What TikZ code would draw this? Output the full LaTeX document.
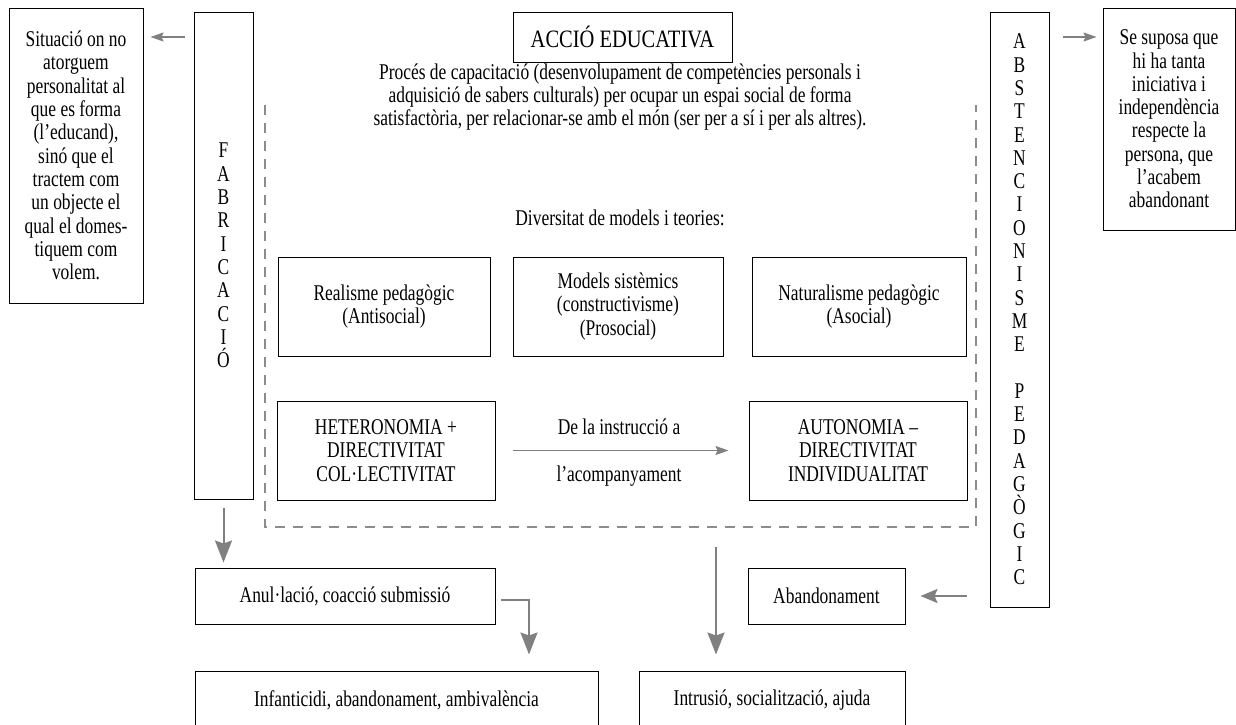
\documentclass[tikz,border=0pt]{standalone}
\usepackage{fontspec}
\setmainfont{Liberation Serif}[FakeStretch=0.775]
\newfontfamily\titlefont{Liberation Serif}[FakeStretch=0.82]
\usetikzlibrary{arrows.meta}
\definecolor{agray}{RGB}{128,128,128}
\definecolor{dgray}{RGB}{140,140,140}
\newcommand\myfs{\fontsize{22.5pt}{23.3pt}\selectfont}
\newcommand\mybigfs{\titlefont\fontsize{25pt}{27pt}\selectfont}
\begin{document}
\begin{tikzpicture}[x=1pt,y=-1pt,
  box/.style={draw=black, line width=1pt, inner sep=0pt, align=center, font=\myfs},
  plain/.style={inner sep=0pt, align=center, font=\myfs},
  bigarrow/.style={draw=agray, line width=2pt, -{Stealth[length=22pt,width=17pt,inset=3pt]}},
  midarrow/.style={draw=agray, line width=2.2pt, -{Stealth[length=17pt,width=14pt,inset=3pt]}},
  smallarrow/.style={draw=agray, line width=1.5pt, -{Stealth[length=13pt,width=9pt,inset=2pt]}},
  dashline/.style={draw=dgray, line width=2pt, dash pattern=on 10pt off 8pt}]
\fill[white] (0,0) rectangle (1236,724);
\clip (0,0) rectangle (1236,724);

% side boxes
\node[box, minimum width=134pt, minimum height=295pt] (lt) at (76,155.5)
  {Situació on no\\atorguem\\personalitat al\\que es forma\\(l’educand),\\sinó que el\\tractem com\\un objecte el\\qual el domes-\\tiquem com\\volem.};
\node[box, minimum width=59pt, minimum height=487pt] (fab) at (223.5,255.5)
  {F\\A\\B\\R\\I\\C\\A\\C\\I\\Ó};
\node[box, minimum width=59pt, minimum height=595pt] (abst) at (1019.5,309.5)
  {A\\B\\S\\T\\E\\N\\C\\I\\O\\N\\I\\S\\M\\E\\[23.3pt]P\\E\\D\\A\\G\\Ò\\G\\I\\C};
\node[box, minimum width=132pt, minimum height=222pt] (rt) at (1169,119)
  {Se suposa que\\hi ha tanta\\iniciativa i\\independència\\respecte la\\persona, que\\l’acabem\\abandonant};

% title
\node[box, font=\mybigfs, minimum width=219pt, minimum height=50pt] (acc) at (622.5,37) {ACCIÓ EDUCATIVA};

% central texts
\node[plain] (proc) at (620,97)
  {Procés de capacitació (desenvolupament de competències personals i\\adquisició de sabers culturals) per ocupar un espai social de forma\\satisfactòria, per relacionar-se amb el món (ser per a sí i per als altres).};
\node[plain] (div) at (620,218) {Diversitat de models i teories:};

% model boxes
\node[box, minimum width=212pt, minimum height=99pt] (real) at (384,306.5) {Realisme pedagògic\\(Antisocial)};
\node[box, minimum width=210pt, minimum height=99pt] (mod) at (618,306.5) {Models sistèmics\\(constructivisme)\\(Prosocial)};
\node[box, minimum width=214pt, minimum height=99pt] (nat) at (859,306.5) {Naturalisme pedagògic\\(Asocial)};

\node[box, minimum width=218pt, minimum height=99pt] (het) at (386,450.5) {HETERONOMIA +\\DIRECTIVITAT\\COL·LECTIVITAT};
\node[box, minimum width=218pt, minimum height=99pt] (aut) at (858,450.5) {AUTONOMIA –\\DIRECTIVITAT\\INDIVIDUALITAT};
\node[plain] (lab1) at (619,427) {De la instrucció a};
\node[plain] (lab2) at (619,476) {l’acompanyament};

% dashed frame
\coordinate (d1) at (265,105);
\coordinate (d2) at (265,527);
\coordinate (d3) at (976,527);
\coordinate (d4) at (976,105);
\draw[dashline] (d1) -- (d2) -- (d3) -- (d4);

% bottom boxes
\node[box, minimum width=300pt, minimum height=56pt] (anul) at (345,596) {Anul·lació, coacció submissió};
\node[box, minimum width=157pt, minimum height=56pt] (aband) at (826.5,596) {Abandonament};
\node[box, minimum width=403pt, minimum height=58pt] (inf) at (396.5,700) {Infanticidi, abandonament, ambivalència};
\node[box, minimum width=266pt, minimum height=58pt] (intr) at (772,700) {Intrusió, socialització, ajuda};

% connectors
\coordinate (a1) at (0,37);
\coordinate (e1) at (529,600);
\coordinate (m1) at (716,547);
\draw[smallarrow] ([xshift=-9pt]fab.west |- a1) -- ([xshift=7pt]lt.east |- a1);
\draw[smallarrow] ([xshift=13pt]abst.east |- a1) -- ([xshift=-6pt]rt.west |- a1);
\draw[smallarrow] ([xshift=17pt]het.east) -- ([xshift=-20pt]aut.west);
\draw[bigarrow] ([yshift=-8pt]fab.south) -- ([yshift=5pt]anul.north -| fab.south);
\draw[bigarrow] ([xshift=5pt]anul.east |- e1) -- (e1) -- ([yshift=16pt]inf.north -| e1);
\draw[bigarrow] (m1) -- ([yshift=16pt]intr.north -| m1);
\draw[midarrow] ([xshift=-23pt]abst.west |- aband.east) -- ([xshift=15pt]aband.east);
\end{tikzpicture}
\end{document}
